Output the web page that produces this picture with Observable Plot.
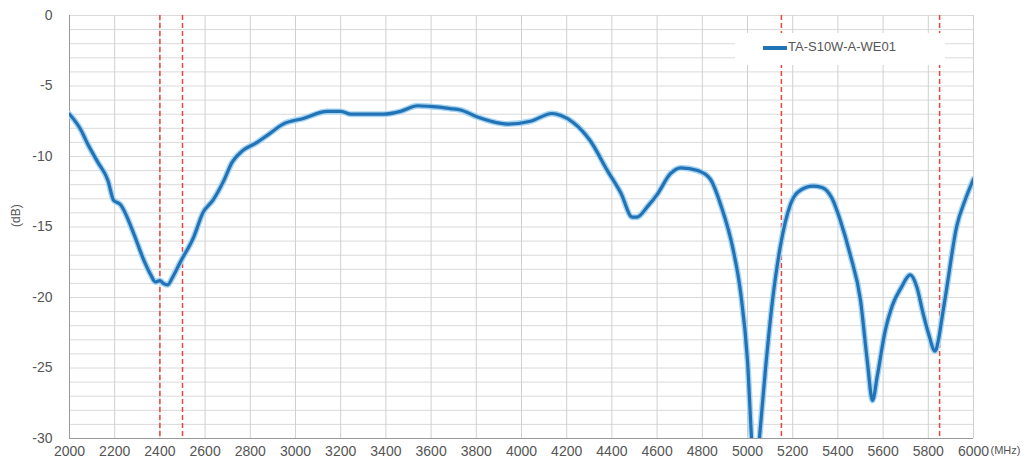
<!DOCTYPE html>
<html>
<head>
<meta charset="utf-8">
<script src="https://cdn.jsdelivr.net/npm/d3@7"></script>
<script src="https://cdn.jsdelivr.net/npm/@observablehq/plot@0.6"></script>
<style>
  html, body { margin: 0; padding: 0; background: #fff; }
  #wrap { position: relative; width: 1035px; height: 469px; }
  #legend { position: absolute; left: 735px; top: 33px; width: 210px; height: 32px; background: #fff;
            font-family: "Liberation Sans", Arial, sans-serif; font-size: 13px; color: #555; }
  #legend .sw { position: absolute; left: 28px; top: 13px; width: 24px; height: 4px; background: #2273b5; }
  #legend .lb { position: absolute; left: 53px; top: 6px; white-space: nowrap; }
</style>
</head>
<body>
<div id="wrap"><div id="chart"></div>
  <div id="legend"><div class="sw"></div><div class="lb" id="lbl"></div></div>
</div>
<script>
const seriesName = "TA-S10W-A-WE01";
const freq = [2000,2050,2080,2125,2170,2195,2225,2285,2325,2360,2380,2400,2415,2435,2455,2490,2550,2590,2635,2680,2720,2765,2830,2875,2945,3035,3140,3200,3245,3390,3465,3540,3595,3685,3730,3805,3865,3940,4040,4135,4175,4230,4305,4380,4440,4490,4510,4560,4600,4660,4705,4780,4835,4885,4935,4970,5000,5020,5035,5050,5080,5110,5145,5190,5225,5290,5330,5375,5410,5455,5500,5530,5553,5575,5610,5640,5680,5720,5750,5775,5800,5830,5845,5860,5880,5925,5965,6000];
const db = [-7.0,-8.1,-9.1,-10.4,-11.7,-13.1,-13.4,-15.5,-17.2,-18.4,-18.9,-18.8,-19.0,-19.1,-18.6,-17.5,-15.7,-14.0,-13.1,-11.8,-10.4,-9.6,-9.0,-8.5,-7.7,-7.3,-6.8,-6.8,-7.0,-7.0,-6.8,-6.4,-6.45,-6.6,-6.7,-7.2,-7.5,-7.7,-7.5,-6.95,-7.1,-7.6,-8.9,-11.0,-12.6,-14.3,-14.3,-13.5,-12.7,-11.2,-10.8,-11.0,-11.6,-13.6,-16.5,-19.7,-24.5,-30.5,-33,-30.5,-25.0,-20.3,-16.4,-13.4,-12.5,-12.1,-12.2,-13.0,-14.5,-17.0,-20.2,-24.5,-27.3,-25.5,-22.3,-20.6,-19.3,-18.4,-19.3,-21.0,-22.5,-23.8,-23.0,-21.5,-19.5,-15.0,-13.0,-11.6];
const xTicks = d3.range(2000, 6001, 200);
const yTicks = d3.range(-30, 1, 5);
const yMinor = d3.range(-30, 1, 1);
const bandEdges = [2400, 2500, 5150, 5850];

const data = freq.map((f, i) => ({f, db: db[i]}));

const chart = Plot.plot({
  width: 1035, height: 469,
  marginLeft: 69, marginRight: 62, marginTop: 15, marginBottom: 31,
  x: {domain: [2000, 6000]},
  y: {domain: [-30, 0]},
  style: {fontFamily: "'Liberation Sans', Arial, sans-serif", fontSize: "14px", color: "#555", background: "white"},
  marks: [
    Plot.gridY(yMinor, {stroke: "#dadada", strokeOpacity: 1}),
    Plot.gridX(xTicks, {stroke: "#d0d0d0", strokeOpacity: 1}),
    Plot.ruleX([2000], {stroke: "#9a9a9a"}),
    Plot.ruleY([-30], {stroke: "#9a9a9a"}),
    Plot.axisY(yTicks, {tickSize: 0, tickPadding: 17, label: null, tickFormat: d => String(d)}),
    Plot.axisX(xTicks, {tickSize: 0, tickPadding: 8, label: null, tickFormat: d => String(d)}),
    Plot.ruleX(bandEdges, {stroke: "#e8473c", strokeDasharray: "5,3", strokeWidth: 1.5}),
    Plot.line(data, {x: "f", y: "db", stroke: "#a6d4f2", strokeWidth: 6, curve: "monotone-x", clip: true}),
    Plot.line(data, {x: "f", y: "db", stroke: "#2273b5", strokeWidth: 3.2, curve: "monotone-x", clip: true}),
    Plot.text(["(MHz)"], {frameAnchor: "bottom-right", dx: 17, dy: 15, textAnchor: "start", fontSize: 11, fill: "#555"}),
    Plot.text(["(dB)"], {frameAnchor: "left", dx: -53, dy: 0, rotate: -90, fontSize: 12, fill: "#555"})
  ]
});
document.getElementById("chart").appendChild(chart);
document.getElementById("lbl").textContent = seriesName;
</script>
</body>
</html>
